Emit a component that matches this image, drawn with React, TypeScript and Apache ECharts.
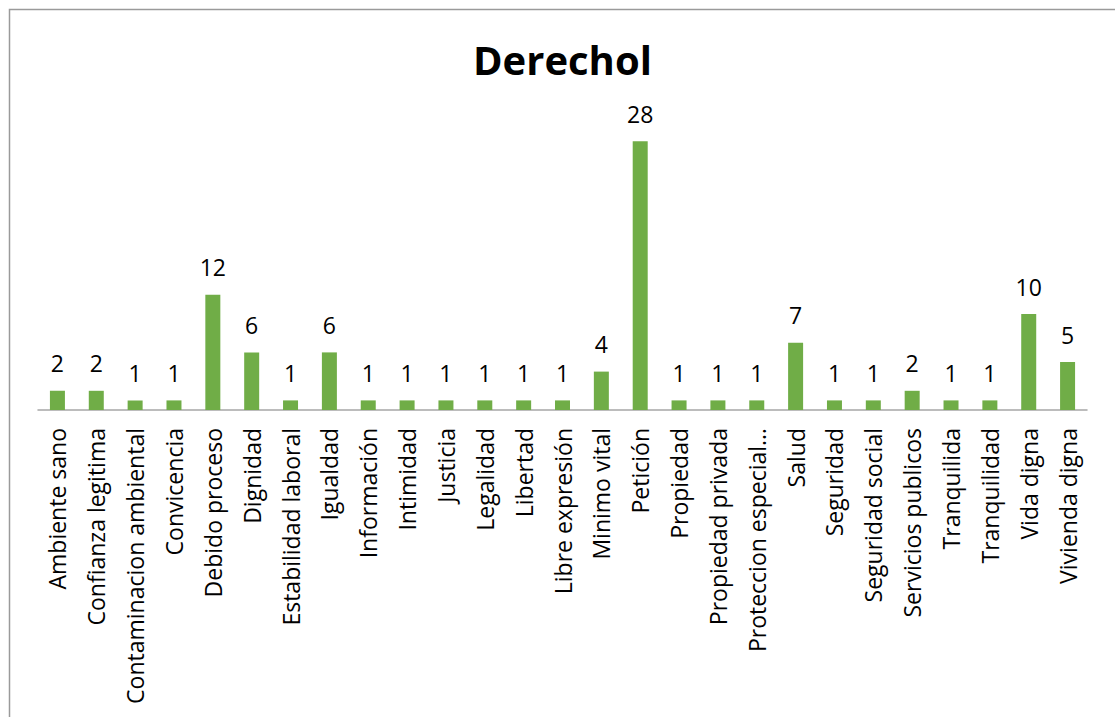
import React, { useEffect, useRef } from "react";
import * as echarts from "echarts";

const categories = [
  "Ambiente sano",
  "Confianza legitima",
  "Contaminacion ambiental",
  "Convicencia",
  "Debido proceso",
  "Dignidad",
  "Estabilidad laboral",
  "Igualdad",
  "Información",
  "Intimidad",
  "Justicia",
  "Legalidad",
  "Libertad",
  "Libre expresión",
  "Minimo vital",
  "Petición",
  "Propiedad",
  "Propiedad privada",
  "Proteccion especial…",
  "Salud",
  "Seguridad",
  "Seguridad social",
  "Servicios publicos",
  "Tranquilida",
  "Tranquilidad",
  "Vida digna",
  "Vivienda digna",
];

const values = [2, 2, 1, 1, 12, 6, 1, 6, 1, 1, 1, 1, 1, 1, 4, 28, 1, 1, 1, 7, 1, 1, 2, 1, 1, 10, 5];

const title = "Derechol";

export default function App() {
  const ref = useRef<HTMLDivElement>(null);
  useEffect(() => {
    if (!ref.current) return;
    const chart = echarts.init(ref.current, undefined, { renderer: "svg" });
    const font = "'Open Sans', 'Noto Sans', sans-serif";
    chart.setOption({
      animation: false,
      backgroundColor: "#ffffff",
      title: {
        text: title,
        left: 468,
        top: 34,
        textStyle: { fontFamily: font, fontWeight: "bold", fontSize: 40, color: "#000000" },
      },
      graphic: [
        {
          type: "rect",
          shape: { x: 9.5, y: 9.5, width: 1300, height: 900 },
          style: { fill: "none", stroke: "#9a9a9a", lineWidth: 1.5 },
          silent: true,
        },
      ],
      grid: { left: 38, right: 28, top: 122, height: 288, containLabel: false },
      xAxis: {
        type: "category",
        data: categories,
        axisLine: { show: true, lineStyle: { color: "#a6a6a6", width: 1.5 } },
        axisTick: { show: false },
        axisLabel: {
          interval: 0,
          rotate: 90,
          margin: 18,
          fontFamily: font,
          fontSize: 23,
          color: "#000000",
        },
      },
      yAxis: {
        type: "value",
        min: 0,
        max: 30,
        show: false,
        splitLine: { show: false },
      },
      series: [
        {
          type: "bar",
          data: values,
          barWidth: 15,
          itemStyle: { color: "#70ad47" },
          label: {
            show: true,
            position: "top",
            distance: 16,
            fontFamily: font,
            fontSize: 23,
            color: "#000000",
          },
        },
      ],
    });
    return () => chart.dispose();
  }, []);
  return (
    <div
      ref={ref}
      style={{ position: "fixed", left: 0, top: 0, width: 1115, height: 717 }}
    />
  );
}
